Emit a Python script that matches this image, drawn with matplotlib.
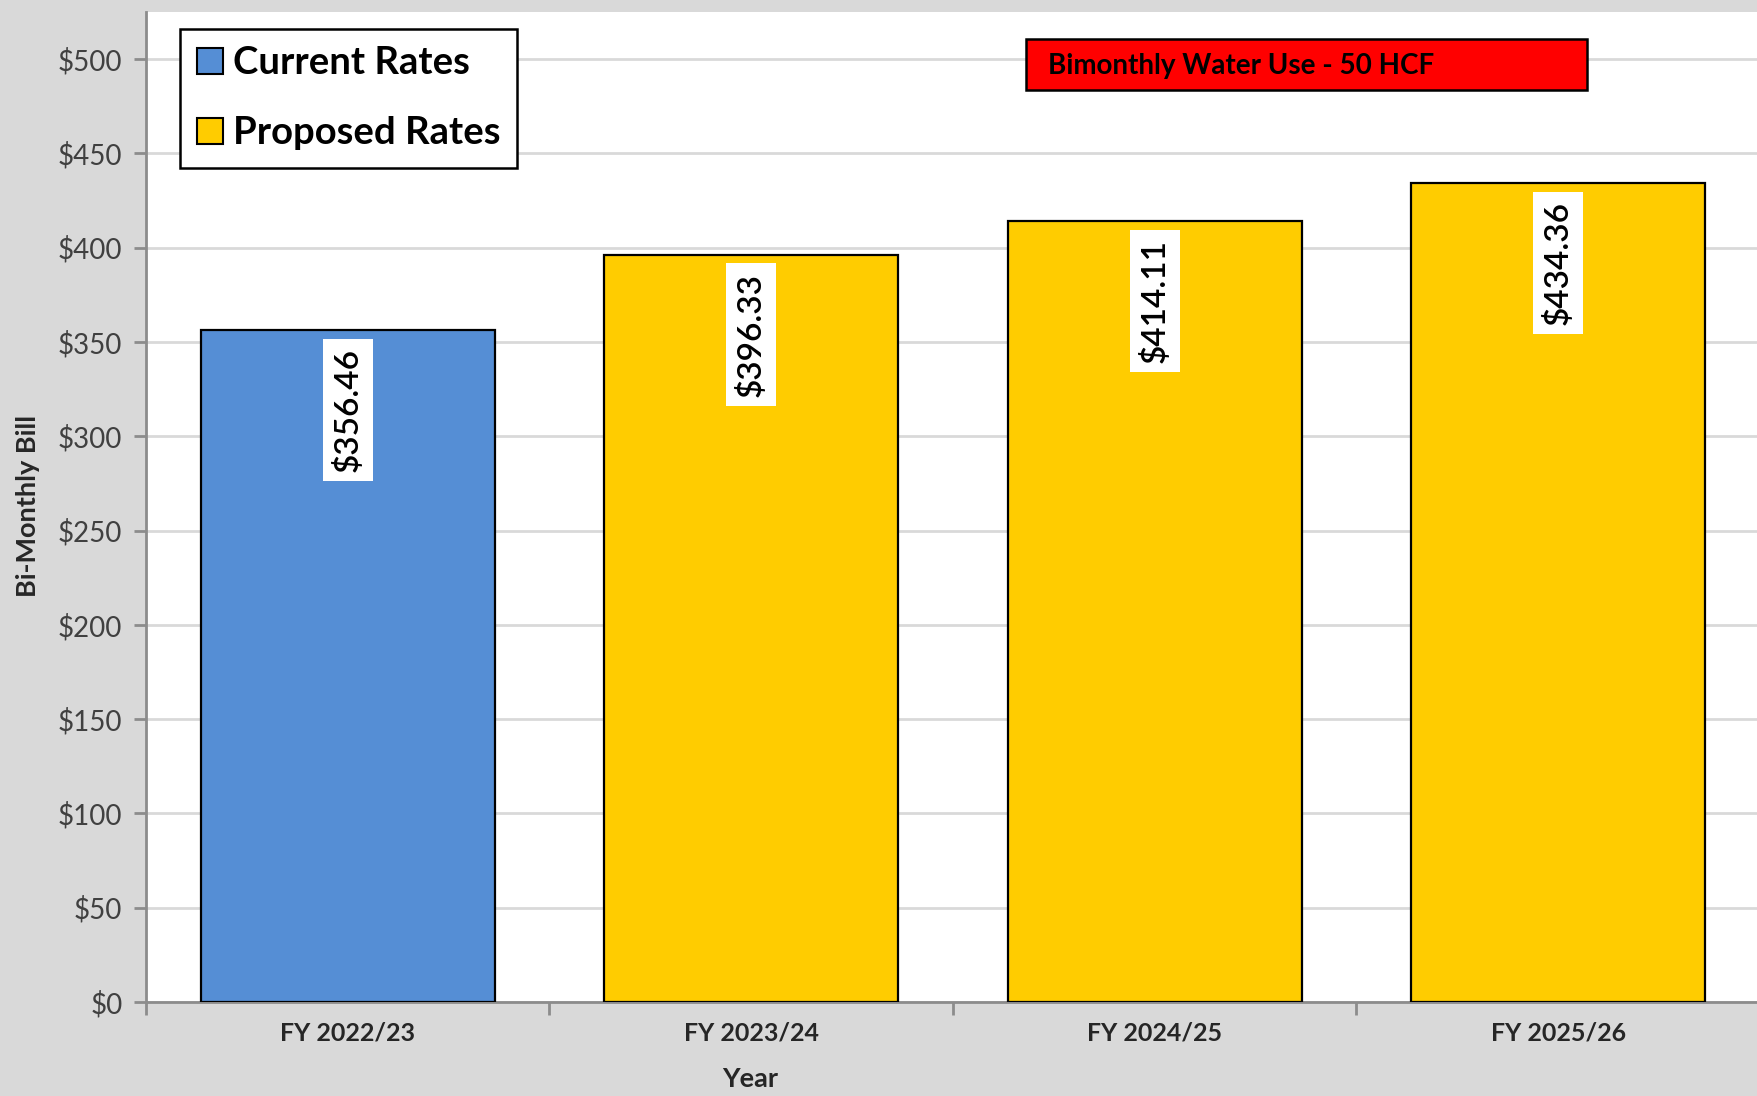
import matplotlib
matplotlib.use("Agg")
import matplotlib.pyplot as plt
from matplotlib.patches import Patch, Rectangle
from matplotlib.ticker import FuncFormatter, MultipleLocator

plt.rcParams['font.family'] = ['Lato', 'DejaVu Sans']

# ---- data ----
categories = ["FY 2022/23", "FY 2023/24", "FY 2024/25", "FY 2025/26"]
bills = [356.46, 396.33, 414.11, 434.36]
series = ["Current Rates", "Proposed Rates", "Proposed Rates", "Proposed Rates"]
legend_labels = ["Current Rates", "Proposed Rates"]
annotation_text = "Bimonthly Water Use - 50 HCF"
y_label = "Bi-Monthly Bill"
x_label = "Year"

colors = {"Current Rates": "#558ED5", "Proposed Rates": "#FFCC00"}

W, H = 1758, 1096
fig = plt.figure(figsize=(W / 100, H / 100), dpi=100)
fig.patch.set_facecolor("#D9D9D9")

left = 146 / W
bottom = 1 - 1002 / H
height = (1002 - 12) / H
width = 1614 / W
ax = fig.add_axes([left, bottom, width, height])
ax.set_facecolor("white")

x = list(range(len(categories)))
bar_colors = [colors[s] for s in series]
ax.bar(x, bills, width=0.728, color=bar_colors, edgecolor="black", linewidth=1.6, zorder=3)

ax.set_xlim(-0.5, len(categories) - 0.5)
ax.set_ylim(0, 525)
ax.yaxis.set_major_locator(MultipleLocator(50))
ax.yaxis.set_major_formatter(FuncFormatter(lambda v, p: f"${v:,.0f}"))
ax.grid(axis="y", color="#D9D9D9", linewidth=2, zorder=0)
ax.set_axisbelow(True)

for s in ["top", "right"]:
    ax.spines[s].set_visible(False)
for s in ["left", "bottom"]:
    ax.spines[s].set_color("#8C8C8C")
    ax.spines[s].set_linewidth(2)

ax.tick_params(axis="y", direction="out", length=9, width=2, color="#8C8C8C",
               labelsize=20, labelcolor="#404040", pad=8)
# category labels at centres, tick marks at boundaries
ax.set_xticks(x)
ax.set_xticklabels(categories, fontsize=18, fontweight="bold", color="#262626")
ax.tick_params(axis="x", which="major", length=0, pad=14)
ax.set_xticks([i - 0.5 for i in range(len(categories) + 1)], minor=True)
ax.tick_params(axis="x", which="minor", direction="out", length=9, width=2, color="#8C8C8C")

fig.text(28 / W, 1 - 506 / H, y_label, rotation=90, ha="center", va="center",
         fontsize=19.5, fontweight="bold", color="#262626")
fig.text(750 / W, 1 - 1079 / H, x_label, ha="center", va="center",
         fontsize=19.5, fontweight="bold", color="#262626")

for xi, v in zip(x, bills):
    ax.annotate(f"${v:.2f}", xy=(xi, v), xytext=(0, -13), textcoords="offset points",
                rotation=90, ha="center", va="top", fontsize=24, fontweight="semibold",
                color="black",
                bbox=dict(boxstyle="square,pad=0.28", facecolor="white", edgecolor="none"),
                zorder=5)

handles = [Patch(facecolor=colors[l], edgecolor="black", linewidth=1.5) for l in legend_labels]
leg = fig.legend(handles, legend_labels, loc="upper left",
                 bbox_to_anchor=(180 / W, 1 - 29 / H), bbox_transform=fig.transFigure,
                 prop={"family": ["Lato", "DejaVu Sans"], "weight": "bold", "size": 27.5},
                 frameon=True, fancybox=False, edgecolor="black", framealpha=1,
                 handlelength=0.68, handleheight=0.68, handletextpad=0.25,
                 labelspacing=0.95, borderpad=0.45, borderaxespad=0)
leg.get_frame().set_linewidth(1.8)

# red annotation box
fig.patches.append(Rectangle((1026 / W, 1 - 90 / H), (1587 - 1026) / W, (90 - 39) / H,
                             transform=fig.transFigure, facecolor="#FF0000",
                             edgecolor="black", linewidth=1.8, zorder=10))
fig.text(1048 / W, 1 - 66 / H, annotation_text, ha="left", va="center",
         fontsize=20, fontweight="bold", color="black", zorder=11)

fig.savefig("out.png", dpi=100, facecolor=fig.get_facecolor())
